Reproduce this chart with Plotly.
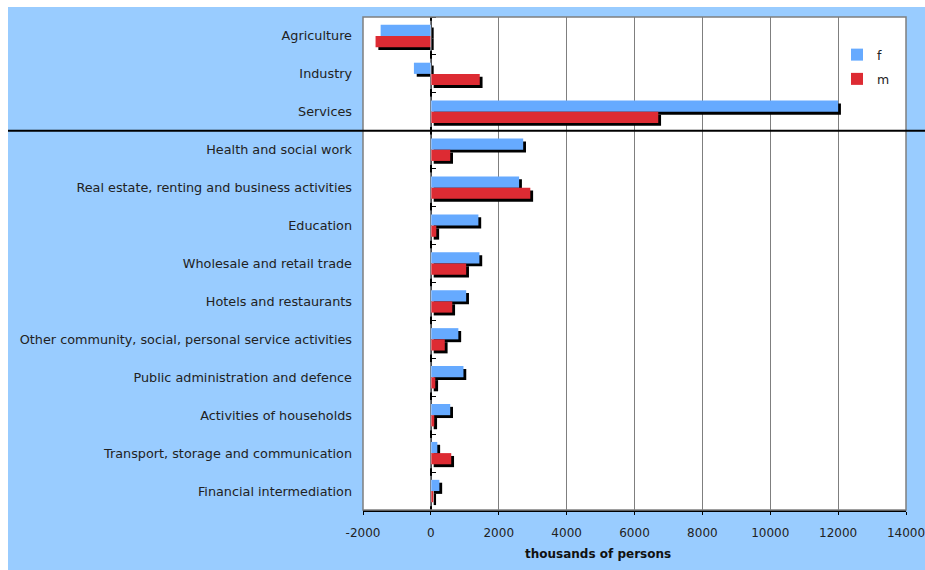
import plotly.graph_objects as go

categories = [
    "Agriculture", "Industry", "Services",
    "Health and social work",
    "Real estate, renting and business activities",
    "Education", "Wholesale and retail trade", "Hotels and restaurants",
    "Other community, social, personal service activities",
    "Public administration and defence", "Activities of households",
    "Transport, storage and communication", "Financial intermediation",
]
f_values = [-1480, -500, 12000, 2720, 2600, 1400, 1430, 1040, 810, 960, 570, 190, 250]
m_values = [-1630, 1440, 6700, 570, 2930, 160, 1040, 630, 410, 130, 100, 600, 70]
x_ticks = [-2000, 0, 2000, 4000, 6000, 8000, 10000, 12000, 14000]

BLUE = "#66AAFF"
RED = "#DD2B33"
BG = "#99CCFF"
FONT = "DejaVu Sans"

W, H = 925, 570
L, R, T, B = 363, 19, 17, 60
pw, ph = W - L - R, H - T - B

bw = 0.295
sx = 2.8 * (16000 / pw)   # shadow x shift (data units)
sy = 0.075                 # shadow y shift (category units)

fig = go.Figure()
for vals, off in ((f_values, -bw), (m_values, 0.0)):
    fig.add_trace(go.Bar(
        y=categories, x=vals, base=sx, orientation="h",
        offset=off + sy, width=bw, marker=dict(color="black", line_width=0),
        showlegend=False, hoverinfo="skip"))
fig.add_trace(go.Bar(
    y=categories, x=f_values, orientation="h", name="f", legendgroup="f",
    offset=-bw, width=bw, marker=dict(color=BLUE, line_width=0)))
fig.add_trace(go.Bar(
    y=categories, x=m_values, orientation="h", name="m", legendgroup="m",
    offset=0.0, width=bw, marker=dict(color=RED, line_width=0)))
# invisible trace carrying the boundary ticks on the zero line
fig.add_trace(go.Bar(y=categories, x=[0] * len(categories), orientation="h",
                     yaxis="y2", showlegend=False, hoverinfo="skip",
                     marker_color="rgba(0,0,0,0)"))

fig.update_layout(
    width=W, height=H,
    margin=dict(l=L, r=R, t=T, b=B, pad=0, autoexpand=False),
    paper_bgcolor=BG, plot_bgcolor="white",
    barmode="overlay",
    font=dict(family=FONT, size=12, color="#222222"),
    xaxis=dict(range=[-2000, 14000], tickvals=x_ticks,
               ticktext=[str(v) for v in x_ticks],
               showgrid=True, gridcolor="#7f7f7f", gridwidth=1,
               zeroline=True, zerolinecolor="black", zerolinewidth=1.5,
               showline=True, linecolor="black", linewidth=1.5,
               ticks="outside", ticklen=3, tickcolor="black",
               ticklabeloverflow="allow", ticklabelstandoff=8,
               tickfont=dict(size=12, color="#222222"), fixedrange=True),
    yaxis=dict(categoryorder="array", categoryarray=categories,
               autorange="reversed", showgrid=False, zeroline=False,
               ticks="", ticklabelstandoff=10,
               tickfont=dict(size=12.8, color="#222222")),
    yaxis2=dict(overlaying="y", anchor="free", position=2000 / 16000,
                side="right", categoryorder="array", categoryarray=categories,
                autorange="reversed", tickson="boundaries", ticks="outside",
                ticklen=4, tickcolor="black", showticklabels=False,
                showgrid=False, zeroline=False, showline=False),
    legend=dict(x=(837 - L) / pw, y=(510 - 40) / ph, xanchor="left", yanchor="top",
                bgcolor="rgba(0,0,0,0)", tracegroupgap=5, itemwidth=30,
                font=dict(size=12.5, color="#222222")),
    annotations=[dict(text="<b>thousands of persons</b>", xref="paper", yref="paper",
                      x=(598 - L) / pw, y=(510 - 554) / ph, showarrow=False,
                      xanchor="center", yanchor="middle",
                      font=dict(size=12, color="#111111"))],
    shapes=[
        dict(type="rect", xref="paper", yref="paper", x0=0, x1=1, y0=0, y1=1,
             line=dict(color="#7f7f7f", width=1.5), fillcolor="rgba(0,0,0,0)",
             layer="above"),
        dict(type="rect", xref="paper", yref="paper",
             x0=(-L - 5) / pw, x1=(8 - L) / pw, y0=-B / ph - 0.01,
             y1=(H - T) / ph + 0.01,
             line_width=0, fillcolor="white", layer="above"),
        dict(type="rect", xref="paper", yref="paper",
             x0=(-L - 5) / pw, x1=(W - L) / pw + 0.01,
             y0=(510 - 7) / ph, y1=(H - T) / ph + 0.01,
             line_width=0, fillcolor="white", layer="above"),
        dict(type="line", xref="paper", yref="y", x0=(8 - L) / pw, x1=(W - L) / pw,
             y0=2.5, y1=2.5, line=dict(color="black", width=2), layer="above"),
    ],
)

fig.write_html("out.html", config={"displayModeBar": False},
               post_script="document.body.style.margin='0';document.body.style.overflow='hidden';")
